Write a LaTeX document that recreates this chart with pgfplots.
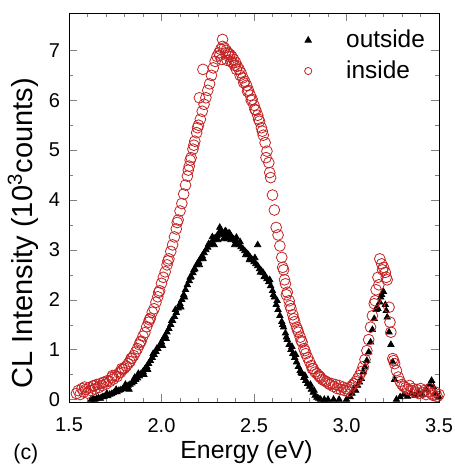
\documentclass[border=0pt]{standalone}
\usepackage{pgfplots}
\pgfplotsset{compat=1.18}
\usepackage{fontspec}
\setmainfont{Liberation Sans}
\definecolor{clred}{RGB}{195,35,35}

\begin{document}
\begin{tikzpicture}
\begin{axis}[
    scale only axis,
    width=185pt, height=194.5pt,
    xmin=1.5, xmax=3.5,
    ymin=-0.05, ymax=7.75,
    xtick={1.5,2.0,2.5,3.0,3.5},
    ytick={0,1,2,3,4,5,6,7},
    minor x tick num=4,
    minor y tick num=1,
    tick pos=both,
    tick align=inside,
    major tick length=4pt,
    minor tick length=2pt,
    xticklabel style={yshift=-4.5pt, /pgf/number format/.cd, fixed, fixed zerofill, precision=1},
    yticklabel style={xshift=-1pt},
    /pgf/number format/assume math mode=true,
    ticklabel style={font=\fontsize{10}{12}\selectfont},
    xlabel={Energy (eV)},
    ylabel={CL Intensity (10\textsuperscript{3}counts)},
    xlabel style={at={(axis description cs:0.48,0)}, anchor=base, yshift=-28pt,
        font=\fontsize{12.4}{14}\selectfont},
    ylabel style={at={(axis description cs:-0.124,0.433)}, anchor=center,
        font=\fontsize{14.5}{17}\selectfont},
    legend style={draw=none, fill=none, at={(0.99,0.978)}, anchor=north east,
        font=\fontsize{12.2}{14}\selectfont, row sep=1pt},
    legend cell align={left},
    legend image code/.code={\draw[#1, mark size=1.8pt] plot coordinates {(0pt,0pt)}; \path[draw=none] (-4pt,0pt) (17pt,0pt);},
]

% outside: filled black triangles
\addplot[only marks, mark=triangle*, mark size=1.8pt, color=black] table {
1.62 0.00
1.63 0.01
1.64 0.00
1.65 0.02
1.66 0.03
1.67 0.02
1.68 0.05
1.69 0.06
1.70 0.08
1.71 0.07
1.72 0.10
1.73 0.11
1.74 0.13
1.75 0.15
1.76 0.15
1.77 0.18
1.78 0.19
1.79 0.21
1.80 0.23
1.81 0.25
1.82 0.28
1.83 0.30
1.84 0.33
1.85 0.36
1.86 0.40
1.87 0.43
1.88 0.47
1.89 0.52
1.90 0.56
1.91 0.61
1.92 0.66
1.93 0.72
1.94 0.78
1.95 0.84
1.96 0.90
1.97 0.96
1.98 1.02
1.99 1.08
2.00 1.15
2.01 1.22
2.02 1.28
2.03 1.35
2.04 1.42
2.05 1.50
2.06 1.58
2.07 1.66
2.08 1.74
2.09 1.83
2.10 1.92
2.11 2.00
2.12 2.10
2.13 2.20
2.14 2.30
2.15 2.38
2.16 2.46
2.17 2.54
2.18 2.62
2.19 2.70
2.20 2.76
2.21 2.82
2.22 2.88
2.23 2.94
2.24 3.00
2.25 3.05
2.26 3.10
2.27 3.15
2.28 3.20
2.29 3.24
2.30 3.28
2.31 3.32
2.32 3.40
2.33 3.35
2.34 3.30
2.35 3.36
2.36 3.28
2.37 3.32
2.38 3.25
2.39 3.22
2.40 3.18
2.41 3.14
2.42 3.10
2.43 3.06
2.44 3.02
2.45 2.98
2.46 2.94
2.47 2.90
2.48 2.85
2.49 2.80
2.50 2.76
2.51 2.72
2.52 2.68
2.53 2.62
2.54 2.58
2.55 2.54
2.56 2.48
2.57 2.42
2.58 2.36
2.59 2.28
2.60 2.18
2.61 2.05
2.62 1.90
2.63 1.80
2.64 1.68
2.65 1.56
2.66 1.45
2.67 1.33
2.68 1.20
2.69 1.10
2.70 1.00
2.71 0.92
2.72 0.84
2.73 0.75
2.74 0.66
2.75 0.58
2.76 0.52
2.77 0.44
2.78 0.38
2.79 0.32
2.80 0.26
2.81 0.20
2.82 0.14
2.83 0.08
2.84 0.04
2.85 0.02
2.86 0.00
2.88 0.00
2.90 0.00
2.93 0.00
2.96 0.00
3.00 0.00
3.02 0.05
3.03 0.12
3.04 0.22
3.05 0.18
3.06 0.28
3.07 0.35
3.08 0.42
3.09 0.55
3.10 0.65
3.11 0.78
3.12 0.95
3.13 1.15
3.14 1.40
3.15 1.62
3.16 1.80
3.17 1.82
3.18 1.95
3.19 2.10
3.20 2.16
3.21 1.90
3.22 1.65
3.23 1.35
3.24 1.10
3.25 0.75
3.26 0.40
3.27 0.00
3.29 0.05
3.31 0.10
3.33 0.06
3.35 0.12
3.37 0.08
3.39 0.15
3.41 0.10
3.43 0.20
3.45 0.30
3.46 0.38
3.47 0.25
3.48 0.12
3.50 0.05
1.705 0.12
1.755 0.20
1.805 0.30
1.855 0.44
1.905 0.50
1.955 0.92
2.005 1.08
2.055 1.58
2.105 1.85
2.155 2.45
2.205 2.70
2.255 3.12
2.305 3.20
2.315 3.45
2.325 3.30
2.345 3.38
2.355 3.22
2.365 3.34
2.375 3.20
2.405 3.25
2.455 2.90
2.505 2.84
2.520 3.10
2.555 2.46
2.605 2.10
2.655 1.50
2.705 1.06
2.755 0.54
2.805 0.30
1.825 0.20
1.875 0.52
1.925 0.60
1.975 1.02
2.025 1.22
2.075 1.80
2.125 2.05
2.175 2.60
2.225 2.82
2.275 3.26
2.285 3.10
2.335 3.22
2.395 3.10
2.425 3.16
2.475 2.80
2.535 2.55
2.585 2.40
2.625 1.98
2.675 1.25
2.725 0.90
2.775 0.48
2.825 0.18
3.165 1.85
3.185 2.05
3.215 1.78
};
\addlegendentry{outside}

% inside: open red circles
\addplot[only marks, mark=o, mark size=2.7pt, color=clred, line width=0.4pt] table {
1.54 0.12
1.55 0.18
1.56 0.10
1.57 0.22
1.58 0.15
1.59 0.20
1.60 0.13
1.61 0.24
1.62 0.18
1.63 0.27
1.64 0.21
1.65 0.30
1.66 0.24
1.67 0.32
1.68 0.28
1.69 0.35
1.70 0.31
1.71 0.38
1.72 0.36
1.73 0.44
1.74 0.41
1.75 0.48
1.76 0.46
1.77 0.53
1.78 0.55
1.79 0.60
1.80 0.63
1.81 0.67
1.82 0.72
1.83 0.76
1.84 0.83
1.85 0.88
1.86 0.95
1.87 1.02
1.88 1.10
1.89 1.17
1.90 1.27
1.91 1.34
1.92 1.46
1.93 1.55
1.94 1.63
1.95 1.75
1.96 1.82
1.97 1.95
1.98 2.06
1.99 2.18
2.00 2.33
2.01 2.45
2.02 2.56
2.03 2.70
2.04 2.82
2.05 2.97
2.06 3.10
2.07 3.26
2.08 3.42
2.09 3.60
2.10 3.78
2.11 3.93
2.12 4.12
2.13 4.30
2.14 4.48
2.15 4.68
2.16 4.85
2.17 5.02
2.18 5.18
2.19 5.35
2.20 5.50
2.21 5.62
2.22 5.78
2.23 5.92
2.24 6.05
2.25 6.20
2.26 6.33
2.27 6.50
2.28 6.65
2.29 6.78
2.30 6.88
2.31 6.95
2.32 7.02
2.33 7.08
2.34 7.05
2.35 7.00
2.36 6.95
2.37 6.92
2.38 6.88
2.39 6.82
2.40 6.76
2.41 6.68
2.42 6.62
2.43 6.55
2.44 6.45
2.45 6.38
2.46 6.30
2.47 6.20
2.48 6.10
2.49 6.02
2.50 5.90
2.51 5.80
2.52 5.70
2.53 5.58
2.54 5.45
2.55 5.30
2.56 5.15
2.57 4.98
2.58 4.75
2.59 4.45
2.60 4.10
2.61 3.80
2.62 3.45
2.63 3.30
2.64 3.08
2.65 2.85
2.66 2.60
2.67 2.32
2.68 2.15
2.69 1.98
2.70 1.82
2.71 1.70
2.72 1.56
2.73 1.45
2.74 1.35
2.75 1.25
2.76 1.15
2.77 1.02
2.78 0.92
2.79 0.84
2.80 0.76
2.81 0.68
2.82 0.62
2.83 0.55
2.84 0.52
2.85 0.48
2.86 0.44
2.87 0.40
2.88 0.38
2.89 0.36
2.90 0.33
2.91 0.30
2.92 0.32
2.93 0.26
2.94 0.30
2.95 0.22
2.96 0.28
2.97 0.20
2.98 0.25
2.99 0.18
3.00 0.22
3.01 0.16
3.02 0.24
3.03 0.28
3.04 0.32
3.05 0.36
3.06 0.42
3.07 0.48
3.08 0.56
3.09 0.66
3.10 0.80
3.11 0.98
3.12 1.20
3.13 1.45
3.14 1.68
3.15 1.92
3.16 2.20
3.17 2.45
3.18 2.82
3.19 2.72
3.20 2.65
3.21 2.55
3.22 2.40
3.23 1.85
3.24 1.35
3.25 0.82
3.26 0.72
3.27 0.58
3.28 0.45
3.29 0.36
3.30 0.30
3.31 0.26
3.32 0.24
3.33 0.20
3.34 0.28
3.35 0.18
3.36 0.22
3.37 0.15
3.38 0.20
3.39 0.12
3.40 0.22
3.41 0.14
3.42 0.18
3.43 0.10
3.44 0.16
3.45 0.22
3.46 0.12
3.47 0.08
3.48 0.15
3.49 0.06
3.50 0.10
2.224 6.62
2.330 7.22
2.315 6.90
2.325 6.82
2.345 6.95
2.355 6.80
2.365 6.88
2.375 6.78
2.385 6.75
2.395 6.70
2.405 6.62
2.425 6.50
2.445 6.35
2.465 6.18
2.485 6.00
2.505 5.82
2.525 5.62
2.545 5.38
2.565 4.85
2.585 4.55
2.195 5.45
2.175 5.10
2.155 4.80
2.205 6.05
2.145 4.60
2.085 3.55
2.035 2.78
1.985 2.15
1.935 1.60
1.885 1.15
1.835 0.82
1.785 0.62
1.735 0.48
1.685 0.34
1.635 0.28
1.585 0.25
2.655 2.65
2.665 2.40
2.675 2.10
2.695 1.88
2.715 1.62
2.735 1.40
2.755 1.18
2.775 0.98
2.815 0.62
2.855 0.46
3.155 1.98
3.175 2.30
3.195 2.60
3.215 2.45
3.235 1.55
3.255 0.78
};
\addlegendentry{inside}
\end{axis}
\node[anchor=base west, font=\fontsize{10.7}{12}\selectfont, inner sep=0pt] at (-28pt,-29pt) {(c)};
\pgfresetboundingbox
\path[use as bounding box] (-34.5pt,-32.5pt) rectangle (193pt,201pt);
\end{tikzpicture}
\end{document}
